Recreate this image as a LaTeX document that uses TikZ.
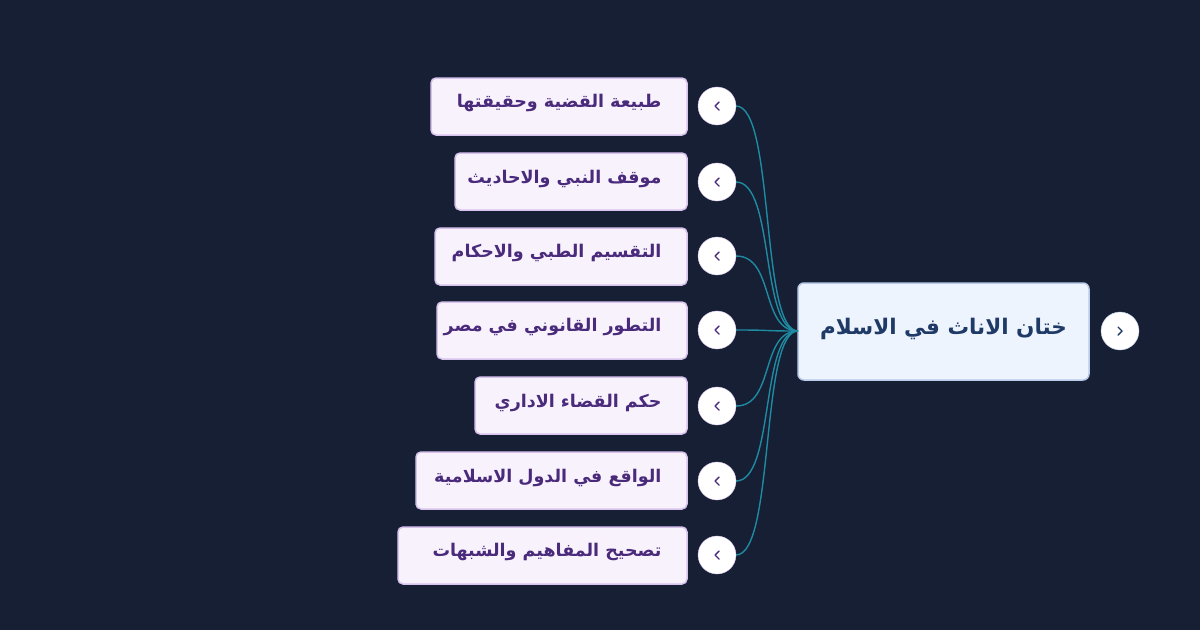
\documentclass[tikz,border=0pt]{standalone}
\usepackage{fontspec}
\newfontfamily\arabicfont[Script=Arabic]{DejaVu Sans}
\TeXXeTstate=1
\definecolor{bg}{HTML}{161F33}
\definecolor{rootfill}{HTML}{EEF4FD}
\definecolor{rootdraw}{HTML}{B9CBEA}
\definecolor{roottext}{HTML}{1F3A66}
\definecolor{kidfill}{HTML}{F8F2FD}
\definecolor{kiddraw}{HTML}{D8C3EF}
\definecolor{kidtext}{HTML}{4A2A7A}
\definecolor{link}{HTML}{1E8BA3}
\begin{document}
\begin{tikzpicture}[x=1pt,y=-1pt,
  kid/.style={draw=kiddraw,line width=1.5pt,fill=kidfill,rounded corners=5pt},
  kidtxt/.style={text=kidtext,font=\arabicfont\bfseries\fontsize{17.5}{20}\selectfont,anchor=east},
  tog/.style={circle,draw=kiddraw,fill=white,minimum size=38pt,inner sep=0pt},
  chev/.style={draw=kidtext,line width=1.4pt,line cap=round,line join=round},
  con/.style={draw=link,line width=1.4pt}]
\fill[bg] (0,0) rectangle (1200,630);
\draw[draw=rootdraw,line width=1.5pt,fill=rootfill,rounded corners=6pt] (798,283) rectangle (1089,380);
\node[text=roottext,font=\arabicfont\bfseries\fontsize{21.5}{24}\selectfont] (root) at (943.5,329) {\beginR ختان الاناث في الاسلام\endR};
\coordinate (rl) at (798,331);
\node[tog,draw=rootdraw] (rt) at (1120,331) {};
\draw[chev,draw=roottext] ([xshift=-2pt,yshift=-4pt]rt.center) -- ([xshift=2pt]rt.center) -- ([xshift=-2pt,yshift=4pt]rt.center);
\foreach \i/\xl/\yt/\yc/\t in {
 1/431/78/106/طبيعة القضية وحقيقتها,
 2/455/153/182/موقف النبي والاحاديث,
 3/435/228/256/التقسيم الطبي والاحكام,
 4/437/302/330/التطور القانوني في مصر,
 5/475/377/406/حكم القضاء الاداري,
 6/416/452/481/الواقع في الدول الاسلامية,
 7/398/527/555/تصحيح المفاهيم والشبهات}{
 \draw[kid] (\xl,\yt) rectangle (687,\yt+57);
 \node[kidtxt] (k\i) at (665,\yc-3) {\beginR \t\endR};
 \draw[con] (rl) .. controls (760,331) and (775,\yc) .. (736,\yc);
 \node[tog] (c\i) at (717,\yc) {};
 \draw[chev] ([xshift=2pt,yshift=-4pt]c\i.center) -- ([xshift=-2pt]c\i.center) -- ([xshift=2pt,yshift=4pt]c\i.center);
}
\end{tikzpicture}
\end{document}
